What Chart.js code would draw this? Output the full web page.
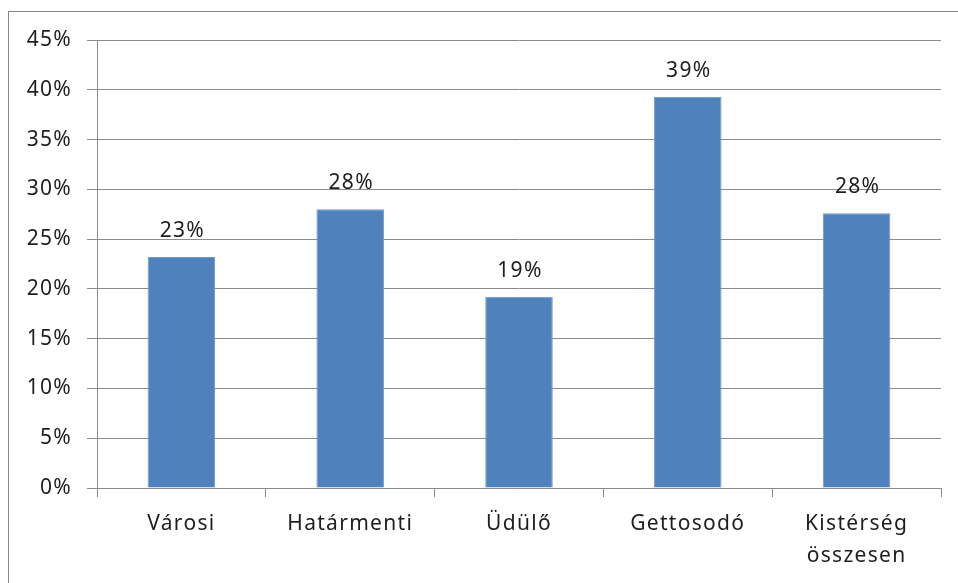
<!DOCTYPE html>
<html>
<head>
<meta charset="utf-8">
<script src="https://cdn.jsdelivr.net/npm/chart.js@4.4.1/dist/chart.umd.min.js"></script>
<style>
  body { margin: 0; background: #fff; }
  #wrap { position: relative; width: 958px; height: 583px; overflow: hidden; }
  #frame { position: absolute; left: 8px; top: 11px; width: 1000px; height: 700px; border: 1px solid #868686; }
  #chart { position: absolute; left: 0; top: 0; }
</style>
</head>
<body>
<div id="wrap">
  <div id="frame"></div>
  <canvas id="chart" width="958" height="583"></canvas>
</div>
<script>
const categories = ["Városi", "Határmenti", "Üdülő", "Gettosodó", ["Kistérség", "összesen"]];
const shares = [23.2, 28.0, 19.2, 39.3, 27.6];
const yTicks = { min: 0, max: 45, step: 5 };

const gridGray = "#8c8c8c";
const textColor = "#1e1e1e";
const fontFamily = "'Noto Sans', 'Open Sans', sans-serif";
const spacing = "1.3px";

// wide letter spacing like the original Excel rendering
const spacingPlugin = {
  id: "spacing",
  beforeUpdate(chart) { chart.ctx.letterSpacing = spacing; },
  beforeDraw(chart) { chart.ctx.letterSpacing = spacing; },
};

const valueLabels = {
  id: "valueLabels",
  afterDatasetsDraw(chart) {
    const ctx = chart.ctx;
    const meta = chart.getDatasetMeta(0);
    ctx.save();
    ctx.letterSpacing = spacing;
    ctx.font = "21px " + fontFamily;
    ctx.fillStyle = textColor;
    ctx.textAlign = "center";
    ctx.textBaseline = "middle";
    meta.data.forEach((bar, i) => {
      ctx.fillText(Math.round(shares[i]) + "%", bar.x + 1, bar.y - 26);
    });
    ctx.restore();
  },
};

new Chart(document.getElementById("chart").getContext("2d"), {
  type: "bar",
  data: {
    labels: categories,
    datasets: [
      {
        data: shares,
        backgroundColor: "#4f81bd",
        borderColor: "#6f97c8",
        borderWidth: 1,
        categoryPercentage: 1,
        barPercentage: 0.4,
      },
    ],
  },
  options: {
    responsive: false,
    animation: false,
    layout: { padding: { top: 40, right: 17, left: 0, bottom: 0 } },
    plugins: {
      legend: { display: false },
      tooltip: { enabled: false },
    },
    scales: {
      x: {
        afterFit(scale) { scale.height = 95; },
        grid: {
          drawOnChartArea: false,
          drawTicks: true,
          tickLength: 9,
          color: gridGray,
        },
        border: { color: gridGray },
        ticks: {
          color: textColor,
          padding: 11,
          maxRotation: 0,
          autoSkip: false,
          font: { family: fontFamily, size: 21, lineHeight: 1.52 },
        },
      },
      y: {
        min: yTicks.min,
        max: yTicks.max,
        afterFit(scale) { scale.width = 97; },
        grid: { color: gridGray, tickLength: 10 },
        border: { color: gridGray },
        ticks: {
          stepSize: yTicks.step,
          color: textColor,
          padding: 15,
          font: { family: fontFamily, size: 21 },
          callback: (v) => v + "%",
        },
      },
    },
  },
  plugins: [spacingPlugin, valueLabels],
});
</script>
</body>
</html>
